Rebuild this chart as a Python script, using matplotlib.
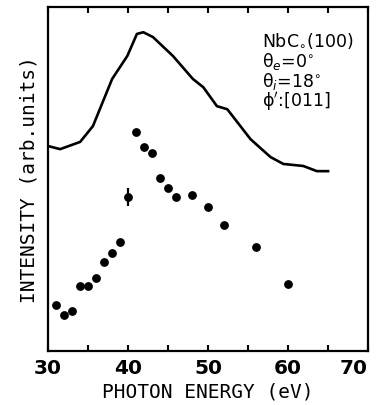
import matplotlib
matplotlib.use("Agg")
import matplotlib.pyplot as plt

# measured spectrum (solid curve)
curve_ev = [30, 31.5, 34, 35.6, 38, 39.9, 41.1, 41.9, 43.1, 45.6, 48.1, 49.4,
            51.1, 52.4, 55.3, 57.8, 59.4, 61.9, 63.6, 65]
curve_int = [59.6, 58.7, 60.8, 65.4, 79.1, 85.8, 92.2, 92.7, 91.3, 85.8, 79.1, 76.7,
             71.2, 70.3, 61.6, 56.4, 54.4, 53.8, 52.3, 52.3]

# calculated points (dots)
dot_ev = [31, 32, 33, 34, 35, 36, 37, 38, 39, 40, 41, 42, 43, 44, 45, 46, 48, 50, 52, 56, 60]
dot_int = [13.5, 10.4, 11.6, 19.0, 18.9, 21.3, 25.9, 28.6, 31.6, 44.9, 63.7, 59.4, 57.6,
           50.2, 47.4, 44.8, 45.3, 41.8, 36.6, 30.3, 19.5]
err_ev = [40]
err_int = [44.9]
err_size = [2.6]

xticks = [30, 40, 50, 60, 70]

plt.rcParams['mathtext.fontset'] = 'dejavusans'

fig = plt.figure(figsize=(3.76, 4.06), dpi=100)
ax = fig.add_axes([0.128, 0.133, 0.851, 0.847])

ax.plot(curve_ev, curve_int, color="black", lw=1.9)
ax.plot(dot_ev, dot_int, "o", color="black", ms=5.3)
ax.errorbar(err_ev, err_int, yerr=err_size, fmt="none", ecolor="black", elinewidth=1.6)

ax.set_xlim(30, 70)
ax.set_ylim(0, 100)
ax.set_xticks(xticks)
ax.set_xticks(range(35, 70, 10), minor=True)
ax.set_yticks([])
ax.tick_params(axis="x", which="both", direction="in", top=True, length=4, width=1.5,
               labelsize=14.5, pad=5)
for lab in ax.get_xticklabels():
    lab.set_fontweight("bold")
# last label sits flush with the right frame in the original
ax.get_xticklabels()[-1].set_horizontalalignment("right")
for s in ax.spines.values():
    s.set_linewidth(1.6)

ax.set_xlabel("PHOTON ENERGY (eV)", family="DejaVu Sans Mono", fontsize=14, labelpad=3)
ax.set_ylabel("INTENSITY (arb.units)", family="DejaVu Sans Mono", fontsize=14, labelpad=7)

ax.text(0.667, 0.905, r"NbC$_{\circ}$(100)", transform=ax.transAxes, fontsize=12.5, va="center")
ax.text(0.667, 0.845, r"θ$_e$=0$^{\circ}$", transform=ax.transAxes, fontsize=12.5, va="center")
ax.text(0.667, 0.787, r"θ$_i$=18$^{\circ}$", transform=ax.transAxes, fontsize=12.5, va="center")
ax.text(0.667, 0.727, r"ϕ$^{\prime}$:[011]", transform=ax.transAxes, fontsize=12.5, va="center")

fig.savefig("out.png", dpi=100)
